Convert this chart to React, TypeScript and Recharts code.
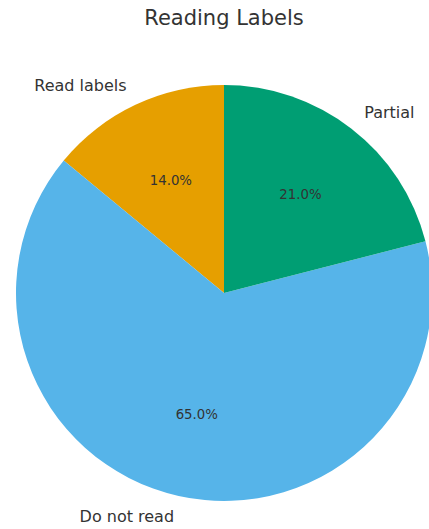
import { PieChart, Pie, Cell } from "recharts";

const labels = ["Read labels", "Do not read", "Partial"];
const shares = [14, 65, 21];
const colors = ["#E69F00", "#56B4E9", "#009E73"];

const data = labels.map((name, i) => ({ name, value: shares[i] }));

const RAD = Math.PI / 180;
const FONT = "DejaVu Sans, sans-serif";

const renderLabel = (props: any) => {
  const { cx, cy, midAngle, outerRadius, percent, name } = props;
  const cos = Math.cos(-midAngle * RAD);
  const sin = Math.sin(-midAngle * RAD);
  const ox = cx + outerRadius * 1.1 * cos;
  const oy = cy + outerRadius * 1.1 * sin;
  const ix = cx + outerRadius * 0.6 * cos;
  const iy = cy + outerRadius * 0.6 * sin;
  return (
    <g>
      <text
        x={ox}
        y={oy}
        fill="#333"
        fontSize={16}
        fontFamily={FONT}
        textAnchor={cos >= 0 ? "start" : "end"}
        dominantBaseline="central"
      >
        {name}
      </text>
      <text
        x={ix}
        y={iy}
        fill="#333"
        fontSize={13.3}
        fontFamily={FONT}
        textAnchor="middle"
        dominantBaseline="central"
      >
        {(percent * 100).toFixed(1)}%
      </text>
    </g>
  );
};

export default function App() {
  return (
    <div style={{ position: "absolute", left: 0, top: 0, width: 429, height: 529 }}>
      <PieChart width={429} height={529} margin={{ top: 0, right: 0, bottom: 0, left: 0 }}>
        <text
          x={224}
          y={18}
          textAnchor="middle"
          dominantBaseline="central"
          fontSize={21}
          fontFamily={FONT}
          fill="#333"
        >
          Reading Labels
        </text>
        <Pie
          data={data}
          dataKey="value"
          nameKey="name"
          cx={224}
          cy={293}
          outerRadius={208}
          startAngle={90}
          endAngle={450}
          stroke="none"
          label={renderLabel}
          labelLine={false}
          isAnimationActive={false}
        >
          {data.map((d, i) => (
            <Cell key={d.name} fill={colors[i]} />
          ))}
        </Pie>
      </PieChart>
    </div>
  );
}
